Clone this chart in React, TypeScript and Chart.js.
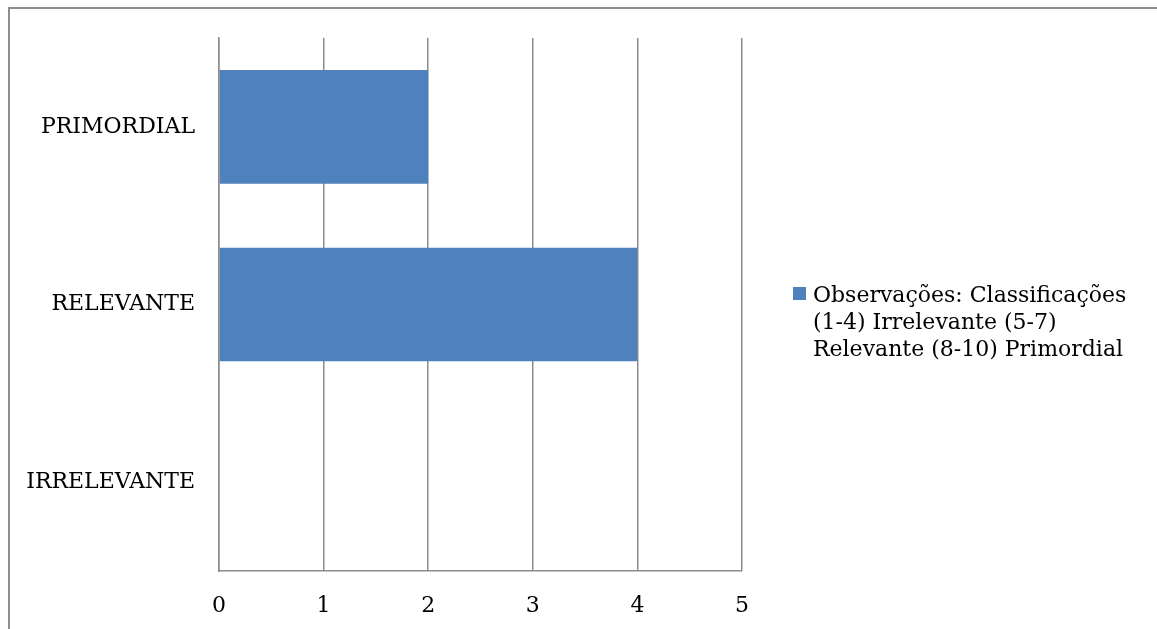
import React, { useEffect, useRef } from "react";
import { Chart, registerables } from "chart.js";

Chart.register(...registerables);

const categories = ["PRIMORDIAL", "RELEVANTE", "IRRELEVANTE"];
const values = [2, 4, 0];
const seriesName = "Observações: Classificações (1-4) Irrelevante (5-7) Relevante (8-10) Primordial";
const legendLines = ["Observações: Classificações", "(1-4) Irrelevante (5-7)", "Relevante (8-10) Primordial"];
const xMin = 0;
const xMax = 5;

const FONT = "'DejaVu Serif', serif";
const FONT_SIZE = 22;
const CW = 1160;
const CH = 630;

export default function App() {
  const ref = useRef<HTMLCanvasElement | null>(null);
  useEffect(() => {
    document.body.style.overflow = "hidden";
    const canvas = ref.current!;
    const legendPlugin = {
      id: "customLegend",
      afterDraw(chart: any) {
        const ctx = chart.ctx;
        ctx.save();
        const bx = 783;
        const by = 278;
        ctx.fillStyle = "#4F81BD";
        ctx.fillRect(bx, by, 13, 13);
        ctx.fillStyle = "#000";
        ctx.font = `${FONT_SIZE}px ${FONT}`;
        ctx.textBaseline = "middle";
        ctx.textAlign = "left";
        legendLines.forEach((l, i) => ctx.fillText(l, 803, 287 + i * 27));
        ctx.restore();
      },
    };
    const chart = new Chart(canvas, {
      type: "bar",
      data: {
        labels: categories,
        datasets: [
          {
            label: seriesName,
            data: values,
            backgroundColor: "#4F81BD",
            borderWidth: 0,
            barPercentage: 0.64,
            categoryPercentage: 1,
          },
        ],
      },
      options: {
        indexAxis: "y",
        animation: false,
        responsive: false,
        devicePixelRatio: 1,
        layout: { padding: { top: 29, right: CW - 732, left: 0, bottom: 0 } },
        plugins: { legend: { display: false }, tooltip: { enabled: false } },
        scales: {
          x: {
            min: xMin,
            max: xMax,
            ticks: { stepSize: 1, padding: 22, color: "#000", font: { family: FONT, size: FONT_SIZE } },
            grid: { color: "#8C8C8C", lineWidth: 1.5, drawTicks: false },
            border: { color: "#8C8C8C", width: 1.5 },
            afterFit: (s: any) => {
              s.height = CH - 562;
            },
          },
          y: {
            ticks: { padding: 24, color: "#000", font: { family: FONT, size: FONT_SIZE } },
            grid: { display: false, drawTicks: false },
            border: { color: "#8C8C8C", width: 1.5 },
            afterFit: (s: any) => {
              s.width = 209;
              s.paddingTop = 0;
              s.paddingBottom = 0;
            },
          },
        },
      },
      plugins: [legendPlugin],
    });
    return () => chart.destroy();
  }, []);
  return (
    <div
      style={{
        position: "absolute",
        left: 8,
        top: 7,
        width: 1200,
        height: 700,
        border: "2px solid #8E8E8E",
        boxSizing: "border-box",
        background: "#fff",
      }}
    >
      <canvas ref={ref} width={CW} height={CH} style={{ position: "absolute", left: 0, top: 0, width: CW, height: CH }} />
    </div>
  );
}
